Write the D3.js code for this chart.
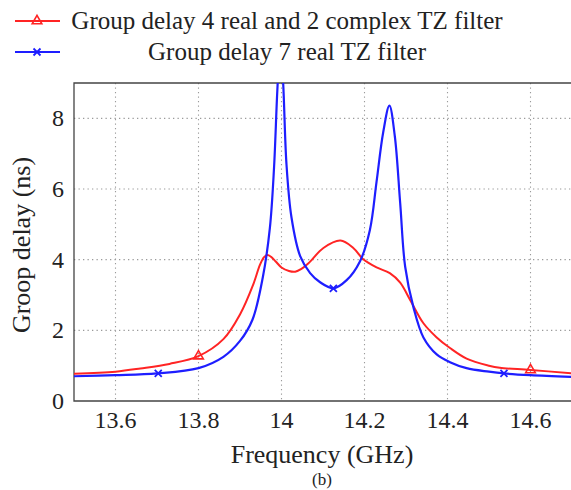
<!DOCTYPE html>
<html>
<head>
<meta charset="utf-8">
<script src="https://cdn.jsdelivr.net/npm/d3@7"></script>
<style>
  html, body { margin: 0; padding: 0; background: #fff; }
  svg { display: block; }
</style>
</head>
<body>
<div id="chart"></div>
<script>
// Group delay vs frequency, two filter variants
const freqBlue = [13.50, 13.60, 13.70, 13.80, 13.86, 13.90, 13.93, 13.955, 13.972, 13.982, 13.990, 13.997,
  14.004, 14.012, 14.024, 14.045, 14.069, 14.093, 14.125, 14.157, 14.189, 14.213, 14.229, 14.245, 14.260,
  14.273, 14.286, 14.298, 14.318, 14.342, 14.374, 14.406, 14.446, 14.50, 14.536, 14.60, 14.70];
const delayBlue = [0.70, 0.73, 0.78, 0.93, 1.25, 1.70, 2.30, 3.5, 4.9, 6.6, 8.8, 10.2,
  9.0, 6.7, 5.2, 4.1, 3.62, 3.36, 3.19, 3.42, 3.95, 4.84, 6.2, 7.6, 8.36,
  7.5, 5.6, 3.8, 2.65, 1.8, 1.32, 1.1, 0.93, 0.83, 0.78, 0.73, 0.68];

const freqRed = [13.50, 13.60, 13.66, 13.73, 13.80, 13.86, 13.90, 13.932, 13.948, 13.958, 13.966, 13.975,
  13.986, 14.00, 14.018, 14.033, 14.048, 14.065, 14.101, 14.142, 14.173, 14.197, 14.229, 14.261, 14.286,
  14.31, 14.342, 14.374, 14.406, 14.446, 14.50, 14.526, 14.60, 14.70];
const delayRed = [0.77, 0.83, 0.92, 1.05, 1.27, 1.75, 2.45, 3.3, 3.85, 4.07, 4.13, 4.08,
  3.95, 3.78, 3.68, 3.66, 3.74, 3.9, 4.33, 4.54, 4.33, 4.01, 3.78, 3.62, 3.35,
  2.86, 2.2, 1.8, 1.5, 1.2, 1.0, 0.94, 0.88, 0.78];

// marker positions
const markRedF = [13.80, 14.60], markRedV = [1.27, 0.88];
const markBlueF = [13.703, 14.125, 14.536], markBlueV = [0.78, 3.19, 0.78];

const xTicks = [13.6, 13.8, 14.0, 14.2, 14.4, 14.6];
const yTicks = [0, 2, 4, 6, 8];
const legendLabels = ["Group delay 4 real and 2 complex TZ filter", "Group delay 7 real TZ filter"];

const W = 571, H = 490;
const ML = 74, MR = 572, TOP = 83, BOT = 401;
const RED = "#ff2424", BLUE = "#1e1eff";
const FAM = "Liberation Serif, Times New Roman, serif";

const x = d3.scaleLinear().domain([13.5, 14.7]).range([ML, MR]);
const y = d3.scaleLinear().domain([0, 9]).range([BOT, TOP]);

const svg = d3.select("#chart").append("svg")
  .attr("width", W).attr("height", H)
  .attr("viewBox", `0 0 ${W} ${H}`);

const txt = (px, py, s, size, anchor) => svg.append("text")
  .attr("x", px).attr("y", py)
  .attr("text-anchor", anchor || "middle")
  .attr("font-family", FAM).attr("font-size", size).attr("fill", "#222")
  .text(s);

svg.append("defs").append("clipPath").attr("id", "plot")
  .append("rect").attr("x", ML).attr("y", TOP).attr("width", MR - ML).attr("height", BOT - TOP);

// grid
xTicks.forEach(v => {
  svg.append("line")
    .attr("x1", x(v)).attr("x2", x(v)).attr("y1", TOP).attr("y2", BOT)
    .attr("stroke", "#9a9a9a").attr("stroke-width", 1.1).attr("stroke-dasharray", "1.3 3.2");
  txt(x(v), BOT + 27, d3.format("~g")(v), 24);
});
yTicks.forEach(v => {
  if (v > 0) {
    svg.append("line")
      .attr("x1", ML).attr("x2", MR).attr("y1", y(v)).attr("y2", y(v))
      .attr("stroke", "#9a9a9a").attr("stroke-width", 1.1).attr("stroke-dasharray", "1.3 3.2");
  }
  txt(ML - 10, y(v) + 8, v, 24, "end");
});

// frame (right edge falls outside the window)
svg.append("path")
  .attr("d", `M${MR},${TOP}H${ML}V${BOT}H${MR}`)
  .attr("fill", "none").attr("stroke", "#444").attr("stroke-width", 1.3);

const mk = (fs, vs) => d3.line().x(d => x(d[0])).y(d => y(d[1]))
  .curve(d3.curveCatmullRom.alpha(0.5))(d3.zip(fs, vs));

const g = svg.append("g").attr("clip-path", "url(#plot)");
g.append("path").attr("d", mk(freqRed, delayRed))
  .attr("fill", "none").attr("stroke", RED).attr("stroke-width", 2);
g.append("path").attr("d", mk(freqBlue, delayBlue))
  .attr("fill", "none").attr("stroke", BLUE).attr("stroke-width", 2.2);

const tri = d3.symbol().type(d3.symbolTriangle).size(40);
const drawTri = (sel, cx, cy) => sel.append("path").attr("d", tri())
  .attr("transform", `translate(${cx},${cy})`)
  .attr("fill", "none").attr("stroke", RED).attr("stroke-width", 1.6);
const drawX = (sel, cx, cy) => sel.append("path")
  .attr("d", `M${cx - 3.5},${cy - 3.5}L${cx + 3.5},${cy + 3.5}M${cx - 3.5},${cy + 3.5}L${cx + 3.5},${cy - 3.5}`)
  .attr("stroke", BLUE).attr("stroke-width", 1.8);

markRedF.forEach((f, i) => drawTri(g, x(f), y(markRedV[i])));
markBlueF.forEach((f, i) => drawX(g, x(f), y(markBlueV[i])));

// legend
const legY = [21, 52];
[RED, BLUE].forEach((c, i) => {
  svg.append("line").attr("x1", 15).attr("x2", 60).attr("y1", legY[i]).attr("y2", legY[i])
    .attr("stroke", c).attr("stroke-width", 2);
  if (i === 0) drawTri(svg, 37, legY[i]); else drawX(svg, 37, legY[i]);
  txt(287, legY[i] + 8, legendLabels[i], 25);
});

// axis titles
txt(322, 463, "Frequency (GHz)", 26);
txt(322, 485, "(b)", 17);
svg.append("text")
  .attr("transform", `translate(30,${(TOP + BOT) / 2 + 3}) rotate(-90)`)
  .attr("text-anchor", "middle")
  .attr("font-family", FAM).attr("font-size", 26).attr("fill", "#222")
  .text("Groop delay (ns)");
</script>
</body>
</html>
